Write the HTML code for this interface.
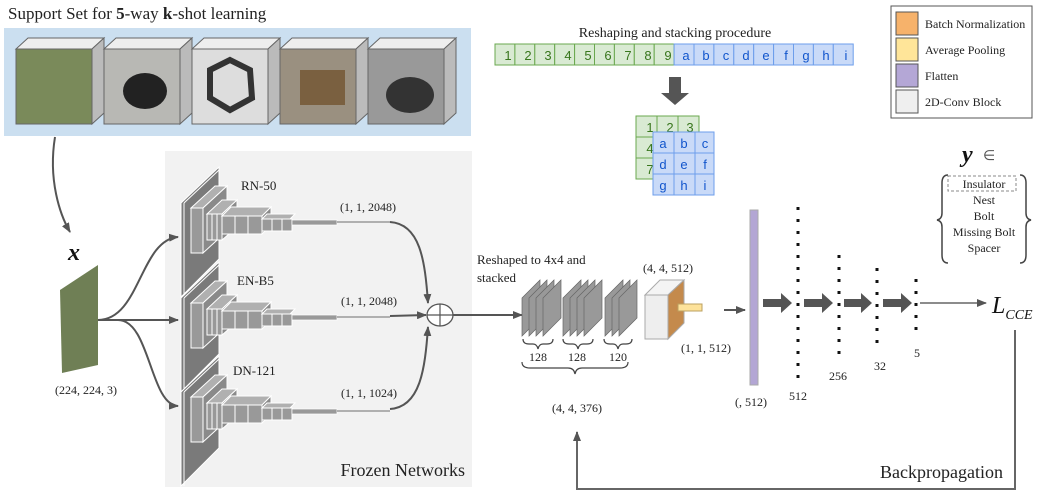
<!DOCTYPE html>
<html><head><meta charset="utf-8"><style>
body{margin:0;background:#fff}
svg{display:block;font-family:"Liberation Serif",serif}
.s{font-family:"Liberation Sans",sans-serif}
</style></head><body>
<svg width="1043" height="493" viewBox="0 0 1043 493" xmlns="http://www.w3.org/2000/svg">
<defs>
<marker id="ah" markerWidth="10" markerHeight="8" refX="9" refY="4" orient="auto" markerUnits="userSpaceOnUse"><path d="M0,0 L10,4 L0,8z" fill="#555"/></marker>
<g id="net">
 <path d="M0,36 L38,0 L38,92 L0,130z" fill="#7a7a7a" stroke="#fff" stroke-width="1"/>
 <path d="M3,36 L38,3 M3,36 V130" stroke="#fff" stroke-width="1" fill="none"/>
 <path d="M10,41 L34,19 L46,19 L22,41z" fill="#b0b0b0" stroke="#fff"/>
 <path d="M22,41 L46,19 L46,64 L22,86z" fill="#8a8a8a" stroke="#fff"/>
 <rect x="10" y="41" width="12" height="45" fill="#999" stroke="#fff"/>
 <path d="M26,47 L41,33 L56,33 L41,47z" fill="#b0b0b0" stroke="#fff"/>
 <path d="M41,47 L56,33 L56,60 L41,73z" fill="#8a8a8a" stroke="#fff"/>
 <rect x="26" y="47" width="15" height="26" fill="#999" stroke="#fff"/>
 <line x1="31" y1="47" x2="31" y2="73" stroke="#fff"/><line x1="36" y1="47" x2="36" y2="73" stroke="#fff"/>
 <path d="M41,49 L50,40 L90,40 L81,49z" fill="#b0b0b0" stroke="#fff"/>
 <path d="M81,49 L90,40 L90,58 L81,67z" fill="#8a8a8a" stroke="#fff"/>
 <rect x="41" y="49" width="40" height="18" fill="#999" stroke="#fff"/>
 <line x1="54" y1="49" x2="54" y2="67" stroke="#fff"/><line x1="67" y1="49" x2="67" y2="67" stroke="#fff"/>
 <path d="M81,52 L86,47 L114,47 L109,52z" fill="#b0b0b0" stroke="#fff"/>
 <rect x="81" y="52" width="30" height="12" fill="#999" stroke="#fff"/>
 <line x1="91" y1="52" x2="91" y2="64" stroke="#fff"/><line x1="101" y1="52" x2="101" y2="64" stroke="#fff"/>
 <rect x="111" y="53" width="45" height="5" fill="#999" stroke="#fff" stroke-width="0.7"/>
 <line x1="156" y1="55" x2="209" y2="55" stroke="#999" stroke-width="1.5"/>
</g>
<g id="pl"><path d="M0,18 L18,0 L18,38 L0,56z" fill="#999" stroke="#666" stroke-width="0.7"/></g>
</defs>

<!-- support set -->
<text x="8" y="19" font-size="17" fill="#222">Support Set for <tspan font-weight="bold">5</tspan>-way <tspan font-weight="bold">k</tspan>-shot learning</text>
<rect x="4" y="28" width="467" height="108" fill="#cbdff0"/>
<g stroke="#666" stroke-width="1">
 <g><path d="M16,49 L28,38 L104,38 L92,49z" fill="#eee"/><path d="M92,49 L104,38 L104,113 L92,124z" fill="#bbb"/><rect x="16" y="49" width="76" height="75" fill="#7a8a5a"/></g>
 <g><path d="M104,49 L116,38 L192,38 L180,49z" fill="#eee"/><path d="M180,49 L192,38 L192,113 L180,124z" fill="#bbb"/><rect x="104" y="49" width="76" height="75" fill="#b8b8b4"/><ellipse cx="145" cy="91" rx="22" ry="18" fill="#222" stroke="none"/></g>
 <g><path d="M192,49 L204,38 L280,38 L268,49z" fill="#eee"/><path d="M268,49 L280,38 L280,113 L268,124z" fill="#bbb"/><rect x="192" y="49" width="76" height="75" fill="#ddd"/><polygon points="230,60 250,70 252,98 230,110 210,98 210,70" fill="none" stroke="#333" stroke-width="6"/></g>
 <g><path d="M280,49 L292,38 L368,38 L356,49z" fill="#eee"/><path d="M356,49 L368,38 L368,113 L356,124z" fill="#bbb"/><rect x="280" y="49" width="76" height="75" fill="#9a9080"/><rect x="300" y="70" width="45" height="35" fill="#7a6040" stroke="none"/></g>
 <g><path d="M368,49 L380,38 L456,38 L444,49z" fill="#eee"/><path d="M444,49 L456,38 L456,113 L444,124z" fill="#bbb"/><rect x="368" y="49" width="76" height="75" fill="#999"/><ellipse cx="410" cy="95" rx="24" ry="18" fill="#333" stroke="none"/></g>
</g>

<!-- grey panel -->
<rect x="165" y="151" width="307" height="336" fill="#f2f2f2"/>
<text x="465" y="476" font-size="18" text-anchor="end" fill="#222">Frozen Networks</text>

<!-- input -->
<path d="M55,137 C48,180 60,215 70,232" fill="none" stroke="#555" stroke-width="2" marker-end="url(#ah)"/>
<text x="68" y="260" font-size="24" font-weight="bold" font-style="italic" fill="#111">x</text>
<path d="M60,290 L98,265 L98,365 L62,373z" fill="#6f7f55"/>
<text x="55" y="394" font-size="12" fill="#222">(224, 224, 3)</text>
<g fill="none" stroke="#555" stroke-width="2">
 <path d="M98,320 C140,320 140,240 178,237" marker-end="url(#ah)"/>
 <path d="M98,320 L178,320" marker-end="url(#ah)"/>
 <path d="M118,320 C150,320 150,405 178,406" marker-end="url(#ah)"/>
</g>

<use href="#net" x="181" y="167"/>
<use href="#net" x="181" y="262"/>
<use href="#net" x="181" y="356"/>
<text x="241" y="190" font-size="13" fill="#222">RN-50</text>
<text x="237" y="285" font-size="13" fill="#222">EN-B5</text>
<text x="233" y="375" font-size="13" fill="#222">DN-121</text>
<text x="340" y="211" font-size="12" fill="#222">(1, 1, 2048)</text>
<text x="341" y="305" font-size="12" fill="#222">(1, 1, 2048)</text>
<text x="341" y="397" font-size="12" fill="#222">(1, 1, 1024)</text>
<g fill="none" stroke="#555" stroke-width="2">
 <path d="M390,222 C420,224 425,260 428,303" marker-end="url(#ah)"/>
 <path d="M390,316 L426,315" marker-end="url(#ah)"/>
 <path d="M390,409 C420,407 425,370 428,327" marker-end="url(#ah)"/>
 <line x1="453" y1="315" x2="522" y2="315" marker-end="url(#ah)"/>
</g>
<ellipse cx="440" cy="315" rx="13" ry="11" fill="#fff" stroke="#555" stroke-width="1.3"/>
<path d="M427,315 H453 M440,304 V326" stroke="#555" stroke-width="1.2"/>

<!-- plates -->
<text x="477" y="264" font-size="13" fill="#222">Reshaped to 4x4 and</text>
<text x="477" y="282" font-size="13" fill="#222">stacked</text>
<use href="#pl" x="522" y="280"/><use href="#pl" x="529" y="280"/><use href="#pl" x="536" y="280"/><use href="#pl" x="543" y="280"/>
<use href="#pl" x="563" y="280"/><use href="#pl" x="570" y="280"/><use href="#pl" x="577" y="280"/><use href="#pl" x="584" y="280"/>
<use href="#pl" x="605" y="280"/><use href="#pl" x="612" y="280"/><use href="#pl" x="619" y="280"/>
<g fill="none" stroke="#444" stroke-width="1.2">
 <path d="M523,339 q0,5 6,5 h4 q4,0 5,5 q1,-5 5,-5 h4 q6,0 6,-5"/>
 <path d="M563,339 q0,5 6,5 h4 q4,0 5,5 q1,-5 5,-5 h4 q6,0 6,-5"/>
 <path d="M604,339 q0,5 6,5 h3 q4,0 5,5 q1,-5 5,-5 h3 q6,0 6,-5"/>
 <path d="M522,362 q0,6 8,6 h38 q6,0 7,6 q1,-6 7,-6 h38 q8,0 8,-6"/>
</g>
<text x="538" y="361" font-size="12" text-anchor="middle" fill="#222">128</text>
<text x="577" y="361" font-size="12" text-anchor="middle" fill="#222">128</text>
<text x="618" y="361" font-size="12" text-anchor="middle" fill="#222">120</text>
<text x="577" y="412" font-size="12" text-anchor="middle" fill="#222">(4, 4, 376)</text>

<!-- cube -->
<text x="643" y="272" font-size="12" fill="#222">(4, 4, 512)</text>
<path d="M645,295 L660,280 L684,280 L668,295z" fill="#f4f4f4" stroke="#aaa"/>
<rect x="645" y="295" width="23" height="44" fill="#eee" stroke="#aaa"/>
<path d="M668,295 L684,280 L684,323 L668,339z" fill="#c48a4c" stroke="#aaa"/>
<rect x="678" y="304" width="24" height="7" fill="#fde29a" stroke="#bba060"/>
<text x="681" y="352" font-size="12" fill="#222">(1, 1, 512)</text>
<line x1="724" y1="310" x2="745" y2="310" stroke="#555" stroke-width="2" marker-end="url(#ah)"/>

<!-- flatten -->
<rect x="750" y="210" width="8" height="175" fill="#b3a6d4" stroke="#aaa"/>
<text x="735" y="406" font-size="12" fill="#222">(, 512)</text>
<g fill="#555">
 <path d="M763,299 H781 V293 L792,303 L781,313 V307 H763z"/>
 <path d="M804,299 H822 V293 L833,303 L822,313 V307 H804z"/>
 <path d="M844,299 H861 V293 L872,303 L861,313 V307 H844z"/>
 <path d="M883,299 H901 V293 L912,303 L901,313 V307 H883z"/>
</g>
<g stroke="#111" stroke-width="3" stroke-dasharray="3,9">
 <line x1="798" y1="207" x2="798" y2="380"/>
 <line x1="839" y1="255" x2="839" y2="355"/>
 <line x1="877" y1="268" x2="877" y2="345"/>
 <line x1="916" y1="279" x2="916" y2="330"/>
</g>
<text x="798" y="400" font-size="12" text-anchor="middle" fill="#222">512</text>
<text x="838" y="380" font-size="12" text-anchor="middle" fill="#222">256</text>
<text x="880" y="370" font-size="12" text-anchor="middle" fill="#222">32</text>
<text x="917" y="357" font-size="12" text-anchor="middle" fill="#222">5</text>
<line x1="920" y1="303" x2="986" y2="303" stroke="#666" stroke-width="1.5" marker-end="url(#ah)"/>
<text x="992" y="313" font-size="24" font-style="italic" fill="#111">L<tspan font-size="14" dy="6">CCE</tspan></text>

<!-- backprop -->
<path d="M1015,330 V489 H577 V432" fill="none" stroke="#666" stroke-width="2" marker-end="url(#ah)"/>
<text x="1003" y="478" font-size="18" text-anchor="end" fill="#222">Backpropagation</text>

<!-- reshaping -->
<text x="675" y="37" font-size="14" text-anchor="middle" fill="#222">Reshaping and stacking procedure</text>
<g class="s" font-size="13" text-anchor="middle">
 <g fill="#d9ead3" stroke="#6aa84f">
  <rect x="495" y="44" width="19.9" height="21"/><rect x="514.9" y="44" width="19.9" height="21"/><rect x="534.8" y="44" width="19.9" height="21"/><rect x="554.7" y="44" width="19.9" height="21"/><rect x="574.6" y="44" width="19.9" height="21"/><rect x="594.5" y="44" width="19.9" height="21"/><rect x="614.4" y="44" width="19.9" height="21"/><rect x="634.3" y="44" width="19.9" height="21"/><rect x="654.2" y="44" width="19.9" height="21"/>
 </g>
 <g fill="#c9daf8" stroke="#6d9eeb">
  <rect x="674.1" y="44" width="19.9" height="21"/><rect x="694" y="44" width="19.9" height="21"/><rect x="713.9" y="44" width="19.9" height="21"/><rect x="733.8" y="44" width="19.9" height="21"/><rect x="753.7" y="44" width="19.9" height="21"/><rect x="773.6" y="44" width="19.9" height="21"/><rect x="793.5" y="44" width="19.9" height="21"/><rect x="813.4" y="44" width="19.9" height="21"/><rect x="833.3" y="44" width="19.9" height="21"/>
 </g>
 <g fill="#38761d"><text x="508" y="60">1</text><text x="528" y="60">2</text><text x="548" y="60">3</text><text x="568" y="60">4</text><text x="588" y="60">5</text><text x="608" y="60">6</text><text x="628" y="60">7</text><text x="648" y="60">8</text><text x="668" y="60">9</text></g>
 <g fill="#1155cc"><text x="686" y="60">a</text><text x="706" y="60">b</text><text x="726" y="60">c</text><text x="746" y="60">d</text><text x="766" y="60">e</text><text x="786" y="60">f</text><text x="806" y="60">g</text><text x="826" y="60">h</text><text x="846" y="60">i</text></g>
 <path d="M669,77 H681 V93 H689 L675,105 L661,93 H669z" fill="#555"/>
 <g fill="#d9ead3" stroke="#6aa84f">
  <rect x="636" y="116" width="21" height="21"/><rect x="657" y="116" width="21" height="21"/><rect x="678" y="116" width="21" height="21"/>
  <rect x="636" y="137" width="21" height="21"/><rect x="636" y="158" width="21" height="21"/>
 </g>
 <g fill="#38761d"><text x="650" y="132">1</text><text x="670" y="132">2</text><text x="690" y="132">3</text><text x="650" y="153">4</text><text x="650" y="174">7</text></g>
 <g fill="#c9daf8" stroke="#6d9eeb">
  <rect x="653" y="132" width="21" height="21"/><rect x="674" y="132" width="21" height="21"/><rect x="695" y="132" width="19" height="21"/>
  <rect x="653" y="153" width="21" height="21"/><rect x="674" y="153" width="21" height="21"/><rect x="695" y="153" width="19" height="21"/>
  <rect x="653" y="174" width="21" height="21"/><rect x="674" y="174" width="21" height="21"/><rect x="695" y="174" width="19" height="21"/>
 </g>
 <g fill="#1155cc"><text x="663" y="148">a</text><text x="684" y="148">b</text><text x="705" y="148">c</text><text x="663" y="169">d</text><text x="684" y="169">e</text><text x="705" y="169">f</text><text x="663" y="190">g</text><text x="684" y="190">h</text><text x="705" y="190">i</text></g>
</g>

<!-- legend -->
<rect x="891" y="6" width="141" height="112" fill="#fff" stroke="#555"/>
<rect x="896" y="12" width="22" height="23" fill="#f6b26b" stroke="#555"/>
<rect x="896" y="38" width="22" height="23" fill="#ffe599" stroke="#555"/>
<rect x="896" y="64" width="22" height="23" fill="#b4a7d6" stroke="#555"/>
<rect x="896" y="90" width="22" height="23" fill="#efefef" stroke="#555"/>
<g font-size="12" fill="#222"><text x="925" y="28">Batch Normalization</text><text x="925" y="54">Average Pooling</text><text x="925" y="80">Flatten</text><text x="925" y="106">2D-Conv Block</text></g>

<!-- y set -->
<text x="962" y="162" font-size="24" font-weight="bold" font-style="italic" fill="#111">y</text>
<text x="983" y="160" font-size="14" fill="#555">∈</text>
<g fill="none" stroke="#444" stroke-width="1.5">
 <path d="M948,175 q-6,0 -6,8 v30 q0,6 -5,7 q5,1 5,7 v28 q0,8 6,8"/>
 <path d="M1020,175 q6,0 6,8 v30 q0,6 5,7 q-5,1 -5,7 v28 q0,8 -6,8"/>
</g>
<rect x="948" y="176" width="68" height="15" fill="none" stroke="#888" stroke-dasharray="3,2"/>
<g font-size="12" text-anchor="middle" fill="#222"><text x="984" y="188">Insulator</text><text x="984" y="204">Nest</text><text x="984" y="220">Bolt</text><text x="984" y="236">Missing Bolt</text><text x="984" y="252">Spacer</text></g>
</svg>
</body></html>
